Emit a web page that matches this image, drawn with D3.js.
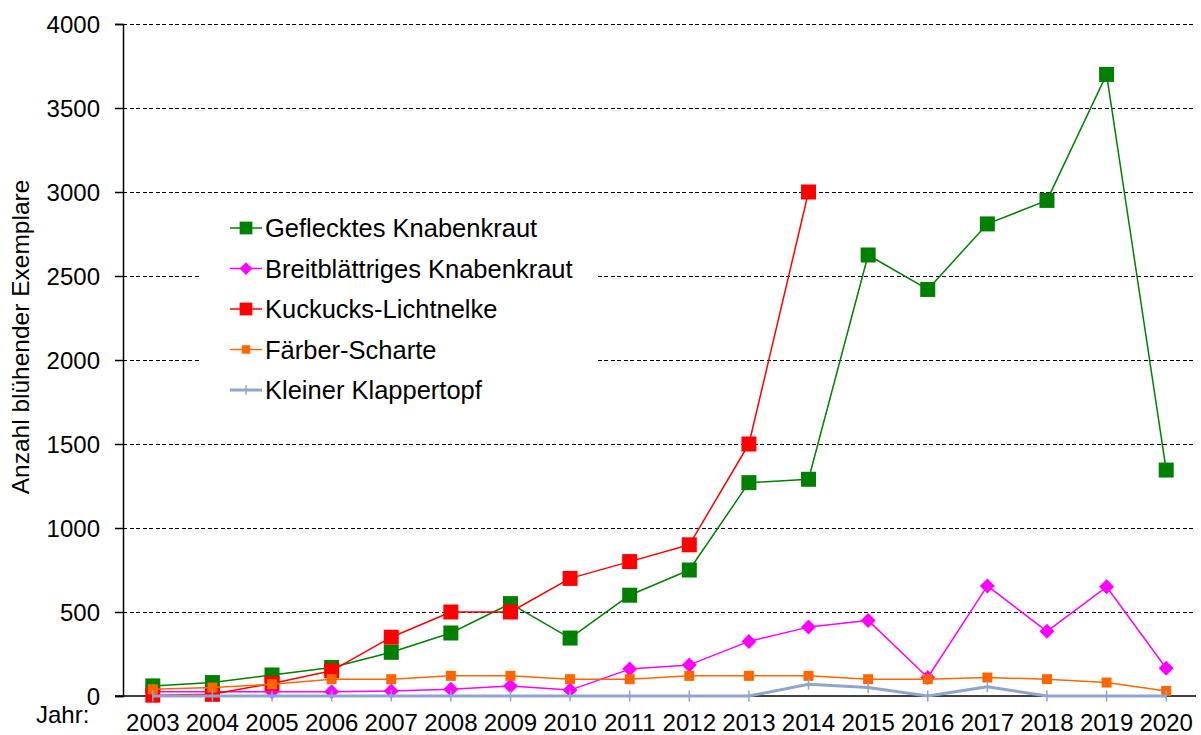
<!DOCTYPE html>
<html>
<head>
<meta charset="utf-8">
<script src="https://cdn.jsdelivr.net/npm/d3@7"></script>
<style>
  body { margin: 0; background: #fff; }
  text { font-family: "Liberation Sans", Arial, sans-serif; fill: #000; }
</style>
</head>
<body>
<div class="sandbox"></div>
<script>
var years = ["2003","2004","2005","2006","2007","2008","2009","2010","2011","2012","2013","2014","2015","2016","2017","2018","2019","2020"];
var yTicks = [0, 500, 1000, 1500, 2000, 2500, 3000, 3500, 4000];

var geflecktes = [60, 80, 125, 170, 260, 375, 550, 345, 600, 750, 1270, 1290, 2625, 2420, 2810, 2950, 3700, 1345];
var breitblaettriges = [25, 25, 25, 25, 30, 40, 60, 35, 160, 185, 325, 410, 450, 110, 655, 385, 650, 165];
var kuckucks = [5, 10, 75, 150, 350, 500, 500, 700, 800, 900, 1500, 3000, null, null, null, null, null, null];
var faerber = [40, 50, 70, 100, 100, 120, 120, 100, 100, 120, 120, 120, 100, 100, 110, 100, 80, 30];
var klappertopf = [0, 0, 0, 0, 0, 0, 0, 0, 0, 0, 0, 70, 50, 0, 55, 0, 0, 0];

var series = [
  {name: "Geflecktes Knabenkraut", values: geflecktes, color: "#008000", marker: "square", size: 15, lw: 1.5},
  {name: "Breitblättriges Knabenkraut", values: breitblaettriges, color: "#ff00ff", marker: "diamond", size: 15, lw: 1.5},
  {name: "Kuckucks-Lichtnelke", values: kuckucks, color: "#ff0000", marker: "square", size: 15, lw: 1.5},
  {name: "Färber-Scharte", values: faerber, color: "#ff6600", marker: "square", size: 10, lw: 1.5},
  {name: "Kleiner Klappertopf", values: klappertopf, color: "#8fa5d0", marker: "plus", size: 11, lw: 3}
];

var w = 1201, h = 735;
var m = {left: 123, right: 1196, top: 24, bottom: 696};

var svg = d3.select(".sandbox").append("svg")
  .attr("width", w)
  .attr("height", h);

var x = d3.scaleBand().domain(years).range([m.left, m.right]);
var y = d3.scaleLinear().domain([0, 4000]).range([m.bottom, m.top]);
var cx = d => x(d) + x.bandwidth() / 2;

// gridlines
svg.append("g")
  .selectAll("line")
  .data(yTicks.filter(d => d > 0))
  .enter()
  .append("line")
  .attr("x1", m.left)
  .attr("x2", m.right)
  .attr("y1", d => y(d) + 0.5)
  .attr("y2", d => y(d) + 0.5)
  .attr("stroke", "#000")
  .attr("stroke-width", 1)
  .attr("shape-rendering", "crispEdges")
  .attr("stroke-dasharray", "4,2.5");

// y axis
var yAxis = d3.axisLeft(y).tickValues(yTicks).tickFormat(d3.format("d")).tickSize(8).tickPadding(15);
var gy = svg.append("g")
  .attr("transform", "translate(" + m.left + ",0)")
  .call(yAxis);
gy.select(".domain").attr("stroke", "#000").attr("stroke-width", 1.5);
gy.selectAll(".tick line").attr("stroke", "#000").attr("stroke-width", 1.5);
gy.selectAll("text").style("font-size", "24px").attr("dy", "0.36em");

// x axis line
svg.append("line")
  .attr("x1", m.left - 8)
  .attr("x2", m.right)
  .attr("y1", m.bottom)
  .attr("y2", m.bottom)
  .attr("stroke", "#000")
  .attr("stroke-width", 1.5);

// series, drawn in order so later ones sit on top
var line = d3.line()
  .defined(d => d.v != null)
  .x(d => cx(d.year))
  .y(d => y(d.v));

series.forEach(function(s) {
  var pts = years.map((yr, i) => ({year: yr, v: s.values[i]}));
  var g = svg.append("g");
  g.append("path")
    .datum(pts)
    .attr("d", line)
    .attr("fill", "none")
    .attr("stroke", s.color)
    .attr("stroke-width", s.lw)
    .attr("stroke-linejoin", "round");
  drawMarkers(g, pts.filter(d => d.v != null), s, d => cx(d.year), d => y(d.v));
});

function drawMarkers(g, pts, s, fx, fy) {
  var half = s.size / 2;
  if (s.marker === "square") {
    g.selectAll("rect")
      .data(pts)
      .enter()
      .append("rect")
      .attr("x", d => fx(d) - half)
      .attr("y", d => fy(d) - half)
      .attr("width", s.size)
      .attr("height", s.size)
      .attr("fill", s.color);
  } else if (s.marker === "diamond") {
    g.selectAll("path.mk")
      .data(pts)
      .enter()
      .append("path")
      .attr("class", "mk")
      .attr("d", d => "M" + fx(d) + "," + (fy(d) - half) + "L" + (fx(d) + half) + "," + fy(d) +
        "L" + fx(d) + "," + (fy(d) + half) + "L" + (fx(d) - half) + "," + fy(d) + "Z")
      .attr("fill", s.color);
  } else {
    g.selectAll("line.mk")
      .data(pts)
      .enter()
      .append("line")
      .attr("class", "mk")
      .attr("x1", fx)
      .attr("x2", fx)
      .attr("y1", d => fy(d) - half)
      .attr("y2", d => fy(d) + half)
      .attr("stroke", s.color)
      .attr("stroke-width", 1.5);
  }
}

// x labels
svg.append("g")
  .selectAll("text")
  .data(years)
  .enter()
  .append("text")
  .attr("x", cx)
  .attr("y", 731)
  .attr("text-anchor", "middle")
  .style("font-size", "24px")
  .text(d => d);

svg.append("text")
  .attr("x", 36)
  .attr("y", 723)
  .style("font-size", "24px")
  .text("Jahr:");

// y label
svg.append("text")
  .attr("transform", "translate(29,337) rotate(-90)")
  .attr("text-anchor", "middle")
  .style("font-size", "24.5px")
  .text("Anzahl blühender Exemplare");

// legend
var lg = svg.append("g").attr("transform", "translate(200,205)");
lg.append("rect")
  .attr("width", 398)
  .attr("height", 208)
  .attr("fill", "#fff");
var items = lg.selectAll("g")
  .data(series)
  .enter()
  .append("g")
  .attr("transform", (d, i) => "translate(0," + (23 + i * 40.5) + ")");
items.append("line")
  .attr("x1", 30)
  .attr("x2", 62)
  .attr("stroke", d => d.color)
  .attr("stroke-width", d => d.lw);
items.each(function(s) {
  var sm = Object.assign({}, s, {size: s.size * 0.85});
  drawMarkers(d3.select(this), [0], sm, () => 46, () => 0);
});
items.append("text")
  .attr("x", 65)
  .attr("dy", "0.36em")
  .style("font-size", "25.5px")
  .text(d => d.name);
</script>
</body>
</html>
